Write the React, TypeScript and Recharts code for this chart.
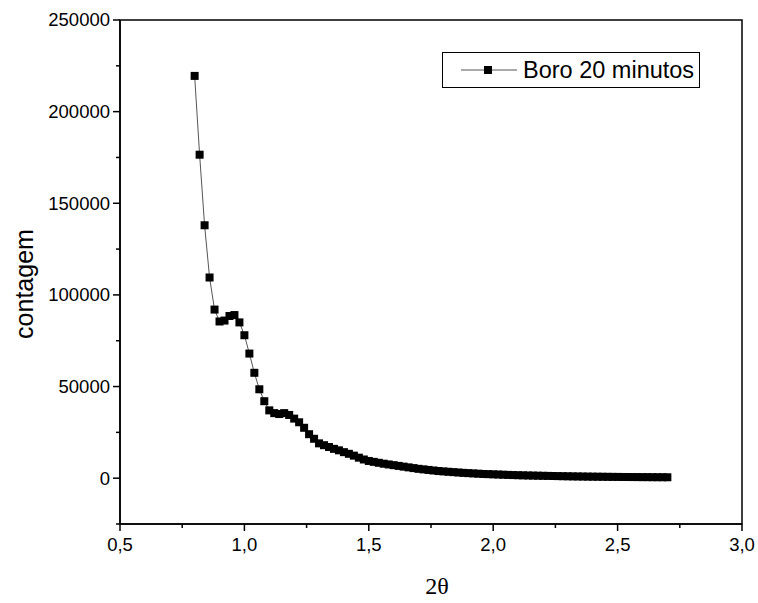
import React from 'react';
import {
  LineChart,
  Line,
  XAxis,
  YAxis,
  Legend,
  Label,
  ReferenceArea,
} from 'recharts';

// 2-theta positions of the scan
const angles = [
  0.8, 0.82, 0.84, 0.86, 0.88, 0.9, 0.92, 0.94, 0.96, 0.98,
  1.0, 1.02, 1.04, 1.06, 1.08, 1.1, 1.12, 1.14, 1.16, 1.18,
  1.2, 1.22, 1.24, 1.26, 1.28, 1.3, 1.32, 1.34, 1.36, 1.38,
  1.4, 1.42, 1.44, 1.46, 1.48, 1.5, 1.52, 1.54, 1.56, 1.58,
  1.6, 1.62, 1.64, 1.66, 1.68, 1.7, 1.72, 1.74, 1.76, 1.78,
  1.8, 1.82, 1.84, 1.86, 1.88, 1.9, 1.92, 1.94, 1.96, 1.98,
  2.0, 2.02, 2.04, 2.06, 2.08, 2.1, 2.12, 2.14, 2.16, 2.18,
  2.2, 2.22, 2.24, 2.26, 2.28, 2.3, 2.32, 2.34, 2.36, 2.38,
  2.4, 2.42, 2.44, 2.46, 2.48, 2.5, 2.52, 2.54, 2.56, 2.58,
  2.6, 2.62, 2.64, 2.66, 2.68, 2.7,
];

// counts for "Boro 20 minutos"
const counts = [
  219500, 176500, 138000, 109500, 92000, 85500, 86000, 88500, 89000, 85000,
  78000, 68000, 57500, 48500, 42000, 37000, 35500, 35000, 35500, 34500,
  32500, 30500, 27500, 24000, 21500, 19000, 18000, 17000, 16000, 15200,
  14200, 13300, 12300, 11200, 10200, 9400, 8900, 8400, 7900, 7500,
  7100, 6700, 6300, 5900, 5500, 5100, 4800, 4500, 4200, 3900,
  3700, 3500, 3300, 3100, 2900, 2750, 2600, 2450, 2300, 2200,
  2100, 2000, 1900, 1800, 1700, 1620, 1550, 1480, 1420, 1360,
  1300, 1250, 1190, 1130, 1080, 1030, 980, 940, 900, 860,
  830, 800, 770, 740, 710, 690, 660, 640, 620, 600,
  580, 560, 545, 530, 515, 500,
];

const xTicks = [0.5, 0.75, 1.0, 1.25, 1.5, 1.75, 2.0, 2.25, 2.5, 2.75, 3.0];
const xMajor = [0.5, 1.0, 1.5, 2.0, 2.5, 3.0];
const yTicks = [-25000, 0, 25000, 50000, 75000, 100000, 125000, 150000, 175000, 200000, 225000, 250000];
const yMajor = [0, 50000, 100000, 150000, 200000, 250000];

const seriesName = 'Boro 20 minutos';
const FONT = 'Arial, "Liberation Sans", sans-serif';

const data = angles.map((a, i) => ({ angle: a, count: counts[i] }));

const XTick = (props: any) => {
  const { x, y, payload } = props;
  const major = xMajor.some(m => Math.abs(m - payload.value) < 1e-9);
  return (
    <g>
      <line x1={x} y1={y} x2={x} y2={y + (major ? 7 : 4)} stroke="#000" strokeWidth={1.5} />
      {major && (
        <text x={x} y={y + 27} textAnchor="middle" fontSize={18.5} fontFamily={FONT} fill="#000">
          {payload.value.toFixed(1).replace('.', ',')}
        </text>
      )}
    </g>
  );
};

const YTick = (props: any) => {
  const { x, y, payload } = props;
  const major = yMajor.includes(payload.value);
  if (payload.value < 0) {
    return <line x1={x} y1={y} x2={x - 4} y2={y} stroke="#000" strokeWidth={1.5} />;
  }
  return (
    <g>
      <line x1={x} y1={y} x2={x - (major ? 7 : 4)} y2={y} stroke="#000" strokeWidth={1.5} />
      {major && (
        <text x={x - 10} y={y} dy="0.35em" textAnchor="end" fontSize={18.5} fontFamily={FONT} fill="#000">
          {payload.value}
        </text>
      )}
    </g>
  );
};

const SquareDot = (props: any) => {
  const { cx, cy, index } = props;
  return <rect key={`d-${index}`} x={cx - 4} y={cy - 4} width={8} height={8} fill="#000" />;
};

const LegendBox = () => (
  <div
    style={{
      border: '1px solid #000',
      background: '#fff',
      display: 'flex',
      alignItems: 'center',
      padding: '0 5px 0 18px',
      height: 34,
      boxSizing: 'content-box',
    }}
  >
    <svg width={56} height={20}>
      <line x1={0} y1={10} x2={56} y2={10} stroke="#555" strokeWidth={1} />
      <rect x={23} y={6} width={8} height={8} fill="#000" />
    </svg>
    <span style={{ fontFamily: FONT, fontSize: 23.5, marginLeft: 6, color: '#000', whiteSpace: 'nowrap' }}>
      {seriesName}
    </span>
  </div>
);

export default function App() {
  return (
    <div style={{ position: 'absolute', left: 0, top: 0, background: '#fff' }}>
      <LineChart width={758} height={603} data={data} margin={{ top: 20, right: 16, bottom: 0, left: 0 }}>
        <XAxis
          dataKey="angle"
          type="number"
          domain={[0.5, 3.0]}
          ticks={xTicks}
          interval={0}
          height={79}
          tickLine={false}
          tickSize={0}
          tickMargin={0}
          tick={<XTick />}
          axisLine={{ stroke: '#000', strokeWidth: 1.5 }}
          allowDataOverflow
        >
          <Label
            content={(p: any) => {
              const vb = p.viewBox;
              return (
                <text
                  x={vb.x + vb.width / 2 + 6}
                  y={vb.y + 70}
                  textAnchor="middle"
                  fontSize={24}
                  fontFamily='"Liberation Serif", "Times New Roman", serif'
                  fill="#000"
                >
                  2θ
                </text>
              );
            }}
          />
        </XAxis>
        <YAxis
          type="number"
          domain={[-25000, 250000]}
          ticks={yTicks}
          interval={0}
          width={120}
          tickLine={false}
          tickSize={0}
          tickMargin={0}
          tick={<YTick />}
          axisLine={{ stroke: '#000', strokeWidth: 1.5 }}
          allowDataOverflow
        >
          <Label
            content={(p: any) => {
              const vb = p.viewBox;
              const cx = vb.x + 24;
              const cy = vb.y + vb.height / 2 + 12;
              return (
                <text
                  x={cx}
                  y={cy}
                  transform={`rotate(-90, ${cx}, ${cy})`}
                  textAnchor="middle"
                  dominantBaseline="central"
                  fontSize={25}
                  fontFamily={FONT}
                  fill="#000"
                >
                  contagem
                </text>
              );
            }}
          />
        </YAxis>
        <ReferenceArea
          x1={0.5}
          x2={3.0}
          y1={-25000}
          y2={250000}
          fill="none"
          stroke="#000"
          strokeWidth={1.5}
          ifOverflow="visible"
        />
        <Legend
          layout="horizontal"
          verticalAlign="middle"
          align="center"
          content={<LegendBox />}
          wrapperStyle={{ position: 'absolute', left: 442, top: 52, width: 'auto' }}
        />
        <Line
          type="linear"
          dataKey="count"
          name={seriesName}
          stroke="#555"
          strokeWidth={1}
          dot={<SquareDot />}
          activeDot={false}
          isAnimationActive={false}
        />
      </LineChart>
    </div>
  );
}
